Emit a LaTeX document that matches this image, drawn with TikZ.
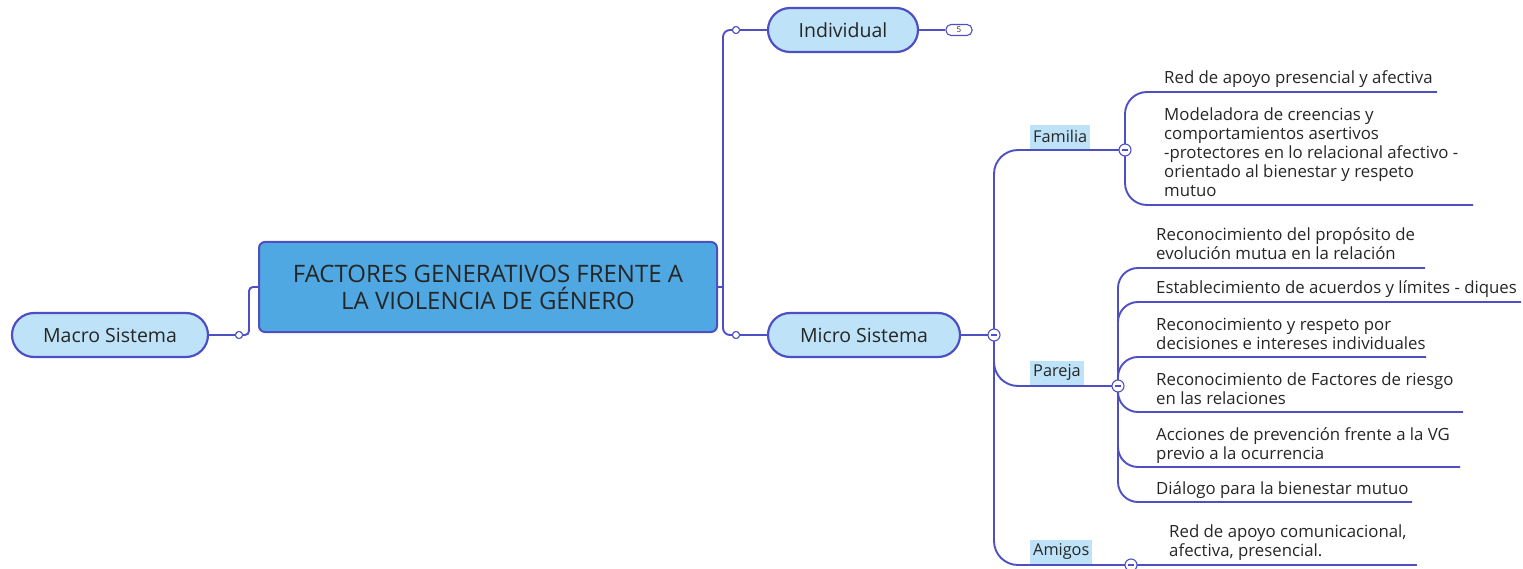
\documentclass[tikz,border=0pt]{standalone}
\usepackage{fontspec}
\setmainfont{Open Sans}
\definecolor{ln}{HTML}{4F4FC4}
\definecolor{pill}{HTML}{BEE3F8}
\definecolor{ctrfill}{HTML}{50A8E2}
\definecolor{ink}{HTML}{262626}
\tikzset{
  conn/.style={draw=ln, line width=1.9pt},
  pillnode/.style={draw=ln, line width=2.2pt, fill=pill, rounded corners=22pt, minimum height=44pt, inner sep=0pt, font=\fontsize{19.5}{22}\selectfont, text=ink},
  knob/.style={circle, draw=ln, fill=white, line width=1pt, inner sep=0pt, minimum size=7pt},
  mknob/.style={circle, draw=ln, fill=white, line width=1.1pt, inner sep=0pt, minimum size=12pt,
    path picture={\draw[ln, line width=1.4pt] ([xshift=-3pt]path picture bounding box.center) -- ([xshift=3pt]path picture bounding box.center);}},
  lab/.style={fill=pill, inner xsep=3pt, inner ysep=0pt, minimum height=24pt, anchor=south west, font=\fontsize{16.3}{18}\selectfont, text=ink},
  txt/.style={align=left, anchor=base west, inner sep=0pt, font=\fontsize{16.8}{19}\selectfont, text=ink},
  badge/.style={draw=ln, fill=white, line width=1.1pt, rounded corners=5pt, minimum width=26pt, minimum height=11pt, inner sep=0pt, font=\fontsize{8}{9}\selectfont, text=ink}
}
\begin{document}
\begin{tikzpicture}[x=1pt,y=-1pt]
\useasboundingbox (0,0) rectangle (1523,569);
% main nodes
\node[draw=ln, line width=2pt, fill=ctrfill, rounded corners=6pt, minimum width=458pt, minimum height=90pt, inner sep=0pt, align=center, font=\fontsize{24}{27}\selectfont, text=ink] (ctr) at (488,287) {FACTORES GENERATIVOS FRENTE A\\LA VIOLENCIA DE GÉNERO};
\node[pillnode, minimum width=196pt] (macro) at (110,335) {Macro Sistema};
\node[pillnode, minimum width=150pt] (ind) at (843,30) {Individual};
\node[pillnode, minimum width=192pt] (micro) at (864,335) {Micro Sistema};
\node[badge] (b5) at (959,30) {5};
% knobs
\node[knob] (lk) at (239,335) {};
\node[knob] (ik) at (736,30) {};
\node[knob] (mk2) at (736,335) {};
\coordinate (tr) at (723,287);
% connectors around centre
\draw[conn] (macro.east) -- (lk);
\draw[conn, rounded corners=4pt] (lk.east) -| (249,287) -- (ctr.west);
\draw[conn] (ctr.east) -- (tr);
\draw[conn, rounded corners=7pt] (ik.west) -| (tr) |- (mk2.west);
\draw[conn] (ik.east) -- (ind.west);
\draw[conn] (mk2.east) -- (micro.west);
\draw[conn] (ind.east) -- (b5.west);
% redraw knobs on top
\node[knob] at (lk) {};
\node[knob] at (ik) {};
\node[knob] at (mk2) {};
% micro branches
\node[lab] (fam) at (1030,149) {Familia};
\node[lab] (par) at (1030,385) {Pareja};
\node[lab] (ami) at (1030,564) {Amigos};
\coordinate (mk) at (994,335);
\coordinate (fk) at (1125,150);
\coordinate (pk) at (1118,386);
\coordinate (ak) at (1131,565);
\draw[conn] (micro.east) -- (mk);
\draw[conn, rounded corners=24pt] (mk) |- (fk);
\draw[conn, rounded corners=24pt] (mk) |- (pk);
\draw[conn, rounded corners=24pt] (mk) |- (ak);
% familia children (anchor = baseline of last line)
\node[txt] (f1) at (1164,84) {Red de apoyo presencial y afectiva};
\node[txt] (f2) at (1164,197) {Modeladora de creencias y\\comportamientos asertivos\\-protectores en lo relacional afectivo -\\orientado al bienestar y respeto\\mutuo};
\draw[conn, rounded corners=22pt] (fk) |- (1437,92);
\draw[conn, rounded corners=22pt] (fk) |- (1473,205);
% pareja children
\node[txt] (p1) at (1156,260) {Reconocimiento del propósito de\\evolución mutua en la relación};
\node[txt] (p2) at (1156,294) {Establecimiento de acuerdos y límites - diques};
\node[txt] (p3) at (1156,349) {Reconocimiento y respeto por\\decisiones e intereses individuales};
\node[txt] (p4) at (1156,404) {Reconocimiento de Factores de riesgo\\en las relaciones};
\node[txt] (p5) at (1156,459) {Acciones de prevención frente a la VG\\previo a la ocurrencia};
\node[txt] (p6) at (1156,494) {Diálogo para la bienestar mutuo};
\draw[conn, rounded corners=20pt] (pk) |- (1425,268);
\draw[conn, rounded corners=20pt] (pk) |- (1521,302);
\draw[conn, rounded corners=20pt] (pk) |- (1426,357);
\draw[conn, rounded corners=20pt] (pk) |- (1463,412);
\draw[conn, rounded corners=20pt] (pk) |- (1460,467);
\draw[conn, rounded corners=20pt] (pk) |- (1412,502);
% amigos child
\node[txt] (a1) at (1169,556) {Red de apoyo comunicacional,\\afectiva, presencial.};
\draw[conn] (ak) -- (1417,565);
% minus knobs
\node[mknob] at (mk) {};
\node[mknob] at (fk) {};
\node[mknob] at (pk) {};
\node[mknob] at (ak) {};
\end{tikzpicture}
\end{document}
